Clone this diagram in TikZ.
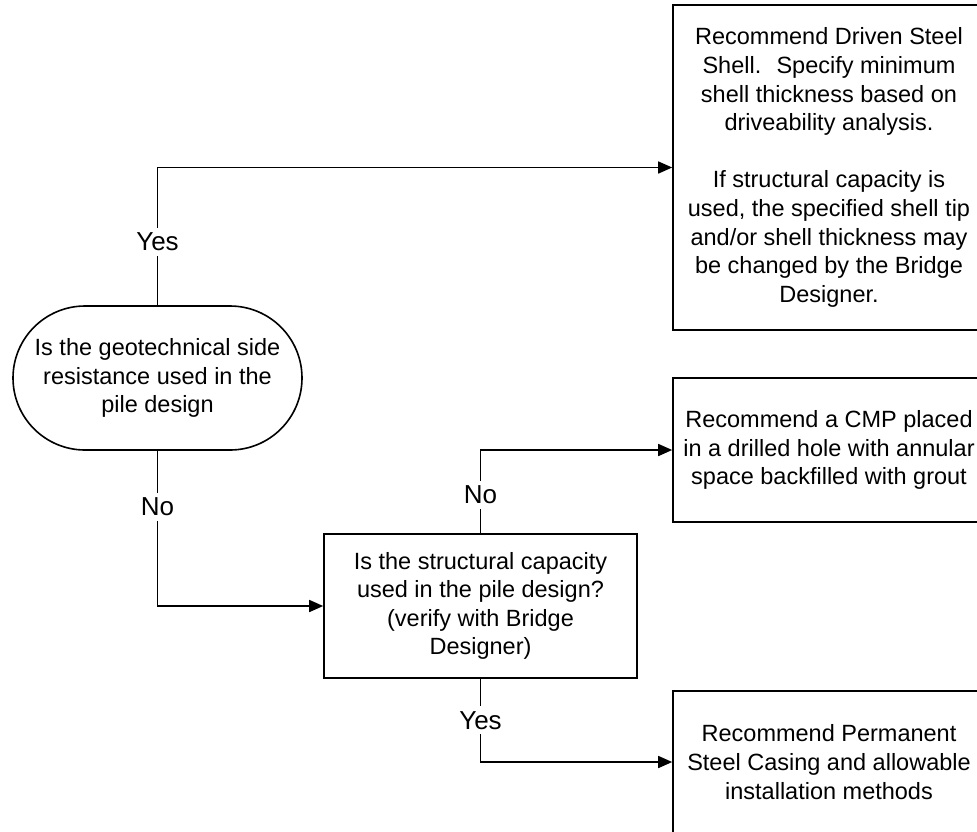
\documentclass[tikz,border=0pt]{standalone}
\usepackage{fontspec}
\setmainfont{Liberation Sans}
\usetikzlibrary{arrows.meta,shapes.misc}
\tikzset{
  box/.style={draw, black, line width=1.6pt, inner sep=0pt, align=center, font=\fontsize{23.5}{28.6}\selectfont},
  startbox/.style={box, rounded rectangle},
  answer/.style={fill=white, inner xsep=1pt, inner ysep=5pt, font=\fontsize{26}{30}\selectfont},
  link/.style={black, line width=1.6pt, -{Triangle[length=14pt,width=12pt]}}
}

\begin{document}
\begin{tikzpicture}[x=1pt,y=-1pt]
\useasboundingbox (0,0) rectangle (977,831);
\clip (0,0) rectangle (977,831);
% questions
\node[startbox, minimum width=289pt, minimum height=144pt] (side) at (157.5,378) {Is the geotechnical side\\resistance used in the\\pile design};
\node[box, minimum width=313pt, minimum height=144pt] (struct) at (480.5,606) {Is the structural capacity\\used in the pile design?\\(verify with Bridge\\Designer)};
% recommendations
\node[box, minimum width=312pt, minimum height=325pt] (shell) at (829,167.5) {Recommend Driven Steel\\Shell.~ Specify minimum\\shell thickness based on\\driveability analysis.\\[28.6pt]If structural capacity is\\used, the specified shell tip\\and/or shell thickness may\\be changed by the Bridge\\Designer.};
\node[box, minimum width=312pt, minimum height=144pt] (cmp) at (829,450) {Recommend a CMP placed\\in a drilled hole with annular\\space backfilled with grout};
\node[box, minimum width=312pt, minimum height=142pt] (casing) at (829,762) {Recommend Permanent\\Steel Casing and allowable\\installation methods};
% answers
\draw[link] (side.north) |- node[answer, pos=0.23]{Yes} (shell.west);
\draw[link] (side.south) |- node[answer, pos=0.18]{No} (struct.west);
\draw[link] (struct.north) |- node[answer, pos=0.23]{No} (cmp.west);
\draw[link] (struct.south) |- node[answer, pos=0.25]{Yes} (casing.west);
\end{tikzpicture}
\end{document}
